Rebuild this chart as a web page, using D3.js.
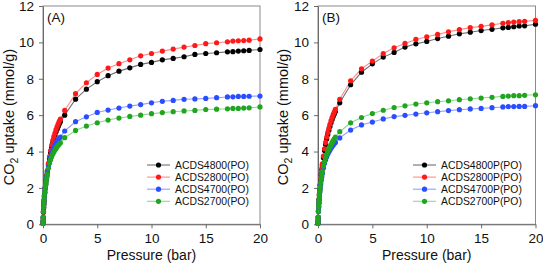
<!DOCTYPE html>
<html>
<head>
<meta charset="utf-8">
<script src="https://cdn.jsdelivr.net/npm/d3@7"></script>
<style>
  body { margin: 0; background: #fff; }
  svg { display: block; font-family: "Liberation Sans", Arial, sans-serif; }
</style>
</head>
<body>
<svg width="543" height="265"></svg>
<script>
// pressure points (bar), shared by every isotherm
const pressure = [0, 0.01, 0.02, 0.04, 0.06, 0.08, 0.1, 0.13, 0.16, 0.2, 0.25, 0.3, 0.35, 0.4,
  0.5, 0.6, 0.7, 0.8, 0.9, 1.0, 1.1, 1.2, 1.3, 1.4, 1.5, 1.6,
  2, 3, 4, 5, 6, 7, 8, 9, 10, 11, 12, 13, 14, 15, 16, 17, 17.5, 18, 18.5, 19, 20]

// panel A uptake (mmol/g)
const acds4800 = [0.05, 0.18, 0.35, 0.66, 0.9, 1.1, 1.28, 1.52, 1.72, 1.96, 2.2, 2.44, 2.66, 2.88,
  3.27, 3.62, 3.94, 4.22, 4.47, 4.69, 4.89, 5.07, 5.23, 5.38, 5.52, 5.64,
  6.0, 6.88, 7.43, 7.84, 8.17, 8.42, 8.6, 8.79, 8.9, 9.04, 9.12, 9.21, 9.34, 9.39, 9.43, 9.48, 9.49, 9.52, 9.54, 9.56, 9.61]
const acds2800 = [0.05, 0.18, 0.36, 0.68, 0.93, 1.13, 1.3, 1.55, 1.76, 2.0, 2.25, 2.5, 2.72, 2.95,
  3.35, 3.72, 4.05, 4.35, 4.6, 4.82, 5.02, 5.2, 5.37, 5.52, 5.66, 5.78,
  6.26, 7.18, 7.78, 8.24, 8.59, 8.83, 9.04, 9.26, 9.39, 9.52, 9.63, 9.74, 9.83, 9.93, 9.98, 10.03, 10.07, 10.09, 10.1, 10.12, 10.19]
const acds4700 = [0.05, 0.2, 0.4, 0.72, 0.98, 1.18, 1.36, 1.6, 1.8, 2.02, 2.25, 2.45, 2.65, 2.85,
  3.18, 3.47, 3.72, 3.92, 4.08, 4.22, 4.35, 4.46, 4.56, 4.64, 4.72, 4.8,
  5.13, 5.64, 5.91, 6.15, 6.28, 6.39, 6.5, 6.58, 6.68, 6.76, 6.81, 6.87, 6.89, 6.92, 6.96, 7.0, 7.01, 7.03, 7.03, 7.04, 7.05]
const acds2700 = [0.05, 0.2, 0.4, 0.7, 0.95, 1.15, 1.33, 1.55, 1.75, 1.95, 2.15, 2.35, 2.55, 2.75,
  3.08, 3.35, 3.55, 3.72, 3.86, 3.97, 4.08, 4.17, 4.26, 4.34, 4.41, 4.48,
  4.76, 5.16, 5.4, 5.58, 5.73, 5.84, 5.93, 6.0, 6.08, 6.14, 6.19, 6.23, 6.26, 6.31, 6.33, 6.35, 6.37, 6.37, 6.39, 6.4, 6.45]

// panel B uptake (mmol/g)
const acds4800p = [0.05, 0.2, 0.38, 0.72, 0.97, 1.17, 1.36, 1.63, 1.87, 2.14, 2.44, 2.73, 3.0, 3.24,
  3.66, 4.05, 4.39, 4.69, 4.94, 5.17, 5.38, 5.58, 5.76, 5.92, 6.06, 6.2,
  6.68, 7.67, 8.36, 8.82, 9.19, 9.45, 9.74, 9.92, 10.05, 10.21, 10.34, 10.47, 10.56, 10.65, 10.72, 10.8, 10.82, 10.86, 10.9, 10.91, 11.0]
const acds2800p = [0.05, 0.2, 0.4, 0.75, 1.0, 1.2, 1.4, 1.68, 1.92, 2.2, 2.5, 2.8, 3.08, 3.32,
  3.75, 4.15, 4.5, 4.8, 5.05, 5.28, 5.5, 5.7, 5.88, 6.04, 6.18, 6.32,
  6.87, 7.89, 8.55, 8.97, 9.39, 9.7, 9.94, 10.16, 10.31, 10.44, 10.58, 10.7, 10.81, 10.88, 10.96, 11.05, 11.09, 11.12, 11.14, 11.16, 11.21]
const acds4700p = [0.05, 0.2, 0.38, 0.7, 0.95, 1.15, 1.32, 1.55, 1.76, 1.98, 2.22, 2.43, 2.62, 2.8,
  3.1, 3.35, 3.55, 3.72, 3.86, 3.98, 4.09, 4.19, 4.28, 4.36, 4.44, 4.5,
  4.75, 5.18, 5.46, 5.62, 5.79, 5.92, 5.99, 6.06, 6.13, 6.19, 6.25, 6.3, 6.34, 6.37, 6.41, 6.45, 6.47, 6.47, 6.48, 6.48, 6.52]
const acds2700p = [0.05, 0.2, 0.4, 0.72, 0.98, 1.18, 1.36, 1.6, 1.82, 2.05, 2.3, 2.52, 2.72, 2.9,
  3.2, 3.45, 3.66, 3.84, 4.0, 4.14, 4.27, 4.38, 4.5, 4.6, 4.7, 4.8,
  5.09, 5.58, 5.87, 6.09, 6.27, 6.42, 6.51, 6.61, 6.68, 6.74, 6.79, 6.85, 6.9, 6.94, 6.98, 7.03, 7.05, 7.07, 7.07, 7.09, 7.12]

const namesA = ['ACDS4800(PO)', 'ACDS2800(PO)', 'ACDS4700(PO)', 'ACDS2700(PO)']
const namesB = ['ACDS4800P(PO)', 'ACDS2800P(PO)', 'ACDS4700P(PO)', 'ACDS2700P(PO)']
const xTicks = [0, 5, 10, 15, 20]
const yTicks = [0, 2, 4, 6, 8, 10, 12]

const dotColors = ['#000000', '#ff1a1a', '#2a4dff', '#1fa51f']
const lineColors = ['#707070', '#ff8c8c', '#8fa0ff', '#8fd88f']

const svg = d3.select('svg')

function panel(opts) {
  const x = d3.scaleLinear().domain([0, 20]).range([opts.left, opts.right])
  const y = d3.scaleLinear().domain([0, 12]).range([224.3, 6])
  const g = svg.append('g')

  // frame
  g.append('rect')
    .attr('x', opts.left).attr('y', y(12))
    .attr('width', opts.right - opts.left).attr('height', y(0) - y(12))
    .attr('fill', 'none').attr('stroke', '#8a8a8a').attr('stroke-width', 1)

  const xAxis = g.append('g')
    .attr('transform', `translate(0,${y(0)})`)
    .call(d3.axisBottom(x).tickValues(xTicks).tickSize(4).tickSizeOuter(0))
  const yAxis = g.append('g')
    .attr('transform', `translate(${opts.left},0)`)
    .call(d3.axisLeft(y).tickValues(yTicks).tickSize(4).tickSizeOuter(0).tickPadding(5))
  for (const a of [xAxis, yAxis]) {
    a.select('.domain').attr('stroke', '#6a6a6a')
    a.selectAll('.tick line').attr('stroke', '#6a6a6a')
    a.selectAll('.tick text').attr('font-size', 13.5).attr('fill', '#111')
      .attr('font-family', '"Liberation Sans", Arial, sans-serif')
  }
  xAxis.selectAll('.tick text').attr('dy', '0.95em').attr('y', 6)

  const line = d3.line().x((d, i) => x(pressure[i])).y(d => y(d))

  opts.series.forEach((vals, k) => {
    g.append('path').datum(vals)
      .attr('d', line)
      .attr('fill', 'none')
      .attr('stroke', lineColors[k])
      .attr('stroke-width', 1.1)
  })
  opts.series.forEach((vals, k) => {
    g.append('g').selectAll('circle').data(vals).join('circle')
      .attr('cx', (d, i) => x(pressure[i]))
      .attr('cy', d => y(d))
      .attr('r', 2.6)
      .attr('fill', dotColors[k])
  })

  // panel letter
  g.append('text')
    .attr('x', opts.left + 4).attr('y', 22)
    .attr('font-size', 13.5).attr('fill', '#111')
    .text(opts.tag)

  // axis titles
  g.append('text')
    .attr('x', (opts.left + opts.right) / 2).attr('y', 260)
    .attr('text-anchor', 'middle').attr('font-size', 14).attr('fill', '#111')
    .text('Pressure (bar)')

  const yt = g.append('text')
    .attr('transform', `translate(${opts.titleX},117) rotate(-90)`)
    .attr('text-anchor', 'middle').attr('font-size', 14.5).attr('fill', '#111')
  yt.append('tspan').text('CO')
  yt.append('tspan').text('2').attr('font-size', 10.5).attr('dy', 3.5)
  yt.append('tspan').text(' uptake (mmol/g)').attr('dy', -3.5)

  // legend
  const lg = g.append('g').attr('transform', `translate(${opts.legendX},165)`)
  opts.names.forEach((name, k) => {
    const row = lg.append('g').attr('transform', `translate(0,${k * 12.1})`)
    row.append('line').attr('x1', 0).attr('x2', 23).attr('y1', 0).attr('y2', 0)
      .attr('stroke', lineColors[k]).attr('stroke-width', 1.1)
    row.append('circle').attr('cx', 11.5).attr('cy', 0).attr('r', 2.6).attr('fill', dotColors[k])
    row.append('text').attr('x', 28).attr('y', 3.8)
      .attr('font-size', 10.4).attr('fill', '#111').text(name)
  })
}

panel({ left: 43, right: 260, tag: '(A)', titleX: 14, legendX: 147,
  names: namesA, series: [acds4800, acds2800, acds4700, acds2700] })
panel({ left: 318, right: 535.5, tag: '(B)', titleX: 288, legendX: 413,
  names: namesB, series: [acds4800p, acds2800p, acds4700p, acds2700p] })
</script>
</body>
</html>
